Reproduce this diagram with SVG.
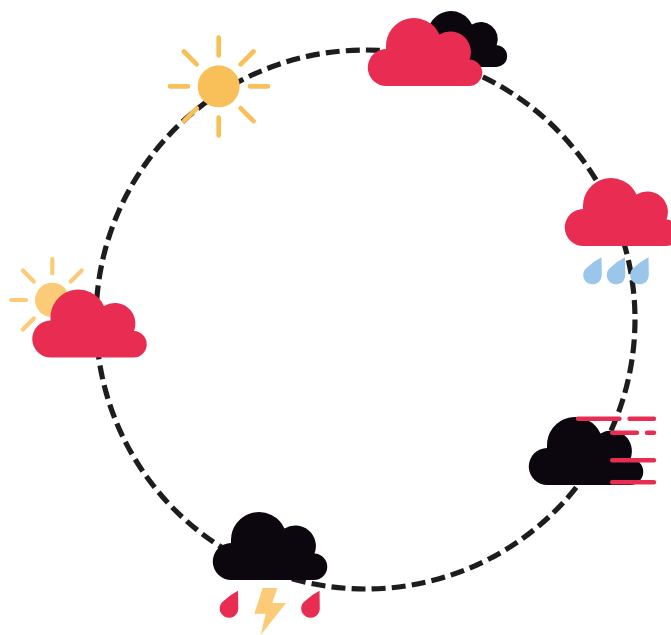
<svg xmlns="http://www.w3.org/2000/svg" xmlns:xlink="http://www.w3.org/1999/xlink" width="671" height="635" viewBox="0 0 671 635">
<style>
.red{fill:#E92D52}
.blk{fill:#0C060F}
.blue{fill:#9AC6EC}
.ring{fill:none;stroke:#1D1D20;stroke-width:5.2;stroke-dasharray:14 6.16;stroke-dashoffset:0.2}
.sun1{fill:#F9C059}
.ray1{stroke:#F9C059;stroke-width:4.7;stroke-linecap:round;fill:none}
.sun2{fill:#FCCB77}
.ray2{stroke:#FCCB77;stroke-width:4.2;stroke-linecap:round;fill:none}
.bolt{fill:#FCCB77}
.fog{stroke:#E92D52;stroke-width:4.4;stroke-linecap:round;fill:none}
</style>
<defs>
<path id="cloud" d="M18.5 68A18.5 18.5 0 0 1 18 31V29A28 28 0 0 1 71.5 16.5A20.6 20.6 0 0 1 101.5 41.5A13 13 0 0 1 100.5 68Z"/>
<path id="drop" d="M0 0L.3 17.8A9.3 9.3 0 1 1-14.4 10.2Q-8 4 0 0Z"/>
</defs>
<g id="connectors">
<circle class="ring" cx="365.5" cy="319.5" r="269.5"/>
</g>
<g id="sun">
<circle class="sun1" cx="218.7" cy="86.3" r="21"/>
<path class="ray1" d="M218.7 37.5V55.5M218.7 117.5V135.5M170 86.3H188M250 86.3H268M183.9 51.5L196.7 64.3M240.7 108.3L253.5 121.1M253.5 51.5L240.7 64.3M196.7 108.3L183.9 121.1"/>
</g>
<g id="overcast">
<use href="#cloud" class="blk" transform="translate(413 11) scale(.824)"/>
<use href="#cloud" class="red" x="368" y="18"/>
</g>
<g id="rain">
<use href="#cloud" class="red" x="565" y="178"/>
<use href="#drop" class="blue" x="601.5" y="257.3"/>
<use href="#drop" class="blue" x="625" y="257.3"/>
<use href="#drop" class="blue" x="648.5" y="257.3"/>
</g>
<g id="wind">
<use href="#cloud" class="blk" x="529" y="417"/>
<path class="fog" d="M578 418.7H619.5M629.5 418.7H654M612.2 432.7H637M647 432.7H654M612.2 460.3H654M612.2 482.3H654"/>
</g>
<g id="storm">
<use href="#cloud" class="blk" x="213" y="512"/>
<use href="#drop" class="red" x="238" y="590.7"/>
<use href="#drop" class="red" x="319.5" y="590.7"/>
<polygon class="bolt" points="262.7,588 277.3,588 272.3,603 286,603 260.7,635 265.7,613.7 254.3,613.7"/>
</g>
<g id="partly-cloudy">
<circle class="sun2" cx="52.3" cy="300" r="17.3"/>
<path class="ray2" d="M52.3 259V273.5M11.2 300H26M22.9 270.5L33.8 281.4M81.7 270.5L70.8 281.4M33.8 318.6L22.9 329.5"/>
<use href="#cloud" class="red" x="32.5" y="289.5"/>
</g>
</svg>
